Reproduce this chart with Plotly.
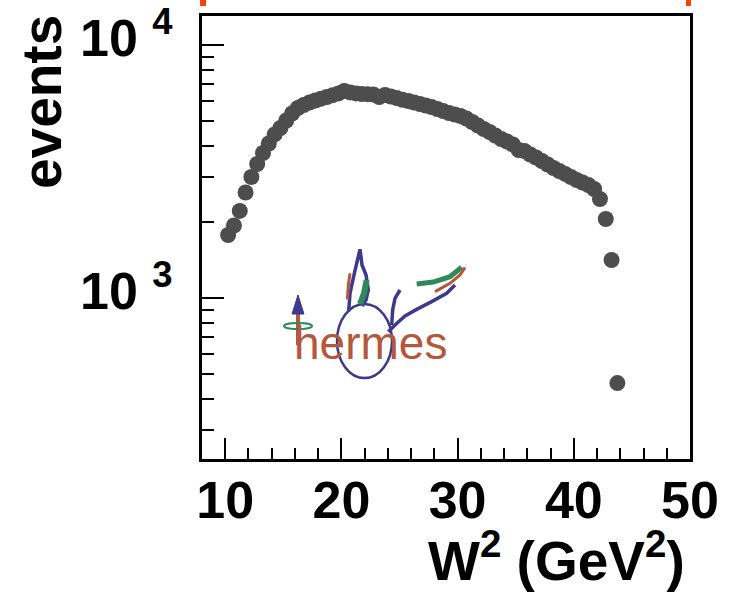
import plotly.graph_objects as go

# ---- data ----
w2 = [10.25 + 0.5 * k for k in range(68)]
events = [1774, 1934, 2208, 2612, 3008, 3385, 3742, 4080, 4430, 4698,
          5030, 5360, 5636, 5792, 5926, 6035, 6134, 6231, 6334, 6433,
          6581, 6492, 6433, 6403, 6391, 6374, 6231, 6345, 6259, 6173,
          6073, 6007, 5926, 5845, 5767, 5688, 5585, 5485, 5386, 5313,
          5241, 5123, 4962, 4806, 4656, 4531, 4389, 4251, 4156, 4044,
          3846, 3811, 3692, 3592, 3479, 3370, 3265, 3177, 3092, 3008,
          2927, 2861, 2797, 2697, 2462, 2052, 1413, 461]
x_ticks = [10, 20, 30, 40, 50]
y_ticks = [1000, 10000]
y_ticktext = ["10 <sup>3</sup>", "10 <sup>4</sup>"]
y_minor = [300, 400, 500, 600, 700, 800, 900,
           2000, 3000, 4000, 5000, 6000, 7000, 8000, 9000]

# ---- geometry (pixels) ----
W, H = 735, 592
L, R, T, B = 202, 690, 16, 459
PW, PH = R - L, B - T


def px(x):
    return (x - L) / PW


def py(y):
    return (B - y) / PH


def path(points):
    # logo points given in a local 3x grid -> page pixels -> paper
    s = ""
    for i, (zx, zy) in enumerate(points):
        x = 260 + zx / 3
        y = 230 + zy / 3
        s += ("M" if i == 0 else " L") + f"{px(x):.4f},{py(y):.4f}"
    return s


FONT = "Liberation Sans, Arial, Helvetica, sans-serif"

fig = go.Figure()
fig.add_trace(go.Scatter(
    x=w2, y=events, mode="markers",
    marker=dict(color="#4d4d4d", size=16, line=dict(width=0)),
    showlegend=False, hoverinfo="x+y"))

navy = "#3d3a8c"
brown = "#b4573a"
green = "#2f8a5a"
shapes = []
# logo: circle
shapes.append(dict(type="circle", xref="paper", yref="paper",
                   x0=px(337), x1=px(392), y0=py(378), y1=py(304),
                   line=dict(color=navy, width=2.5), layer="below"))
# left wing
shapes.append(dict(type="path", xref="paper", yref="paper",
                   path=path([(266, 245), (270, 190), (283, 130), (300, 58), (306, 105),
                              (318, 135), (325, 180), (318, 210), (306, 228)]),
                   line=dict(color=navy, width=3.5)))
shapes.append(dict(type="path", xref="paper", yref="paper",
                   path=path([(300, 222), (312, 190), (320, 150)]),
                   line=dict(color=green, width=6)))
shapes.append(dict(type="path", xref="paper", yref="paper",
                   path=path([(262, 208), (265, 165), (270, 130)]),
                   line=dict(color=brown, width=3)))
# right wing
shapes.append(dict(type="path", xref="paper", yref="paper",
                   path=path([(385, 305), (405, 285), (435, 258), (470, 238), (515, 215),
                              (560, 190), (585, 165)]),
                   line=dict(color=navy, width=3.5)))
shapes.append(dict(type="path", xref="paper", yref="paper",
                   path=path([(395, 285), (398, 240), (405, 205), (420, 180)]),
                   line=dict(color=navy, width=3.5)))
shapes.append(dict(type="path", xref="paper", yref="paper",
                   path=path([(470, 162), (520, 156), (570, 140), (605, 112)]),
                   line=dict(color=green, width=5)))
shapes.append(dict(type="path", xref="paper", yref="paper",
                   path=path([(525, 185), (570, 160), (600, 135), (615, 112)]),
                   line=dict(color=brown, width=3)))
# arrow
shapes.append(dict(type="line", xref="paper", yref="paper",
                   x0=px(298), x1=px(298), y0=py(313), y1=py(345),
                   line=dict(color=brown, width=4)))
shapes.append(dict(type="path", xref="paper", yref="paper",
                   path=f"M{px(292):.4f},{py(314):.4f} L{px(304):.4f},{py(314):.4f} L{px(298):.4f},{py(295):.4f} Z",
                   fillcolor=navy, line=dict(color=navy, width=1)))
shapes.append(dict(type="circle", xref="paper", yref="paper",
                   x0=px(284), x1=px(312), y0=py(329), y1=py(323),
                   line=dict(color=green, width=2)))
# orange marks at the top
for x0, x1 in [(200, 206), (686, 691)]:
    shapes.append(dict(type="rect", xref="paper", yref="paper",
                       x0=px(x0), x1=px(x1), y0=py(6), y1=py(0),
                       fillcolor="#ff4000", line=dict(width=0)))

annotations = [
    dict(text="hermes", xref="paper", yref="paper", x=px(370), y=py(343),
         xanchor="center", yanchor="middle", showarrow=False,
         font=dict(family=FONT, size=46, color=brown)),
    dict(text="events", xref="paper", yref="paper", x=px(42), y=py(102),
         xanchor="center", yanchor="middle", textangle=-90, showarrow=False,
         font=dict(family=FONT, size=55, color="black", weight="bold")),
    dict(text="W<sup>2</sup> (GeV<sup>2</sup>)", xref="paper", yref="paper",
         x=px(687), y=py(594), xanchor="right", yanchor="bottom", showarrow=False,
         font=dict(family=FONT, size=55, color="black", weight="bold")),
]

fig.update_layout(
    width=W, height=H,
    margin=dict(l=L, r=W - R, t=T, b=H - B, pad=0, autoexpand=False),
    paper_bgcolor="white", plot_bgcolor="white",
    shapes=shapes, annotations=annotations,
    xaxis=dict(range=[8, 50], tickmode="array", tickvals=x_ticks,
               automargin=False, ticklabeloverflow="allow",
               ticks="inside", ticklen=21, tickwidth=2, tickcolor="black",
               showline=True, linecolor="black", linewidth=3, mirror=True,
               showgrid=False, zeroline=False,
               tickfont=dict(family=FONT, size=52, color="black", weight="bold"),
               ticklabelstandoff=-6,
               minor=dict(tick0=0, dtick=2, ticks="inside", ticklen=11,
                          tickwidth=2, tickcolor="black", showgrid=False)),
    yaxis=dict(type="log", range=[2.3636, 4.1146], tickmode="array",
               tickvals=y_ticks, ticktext=y_ticktext,
               automargin=False, ticklabeloverflow="allow",
               ticks="inside", ticklen=22, tickwidth=2, tickcolor="black",
               showline=True, linecolor="black", linewidth=3, mirror=True,
               showgrid=False, zeroline=False,
               tickfont=dict(family=FONT, size=52, color="black", weight="bold"),
               ticklabelstandoff=16, ticklabelshift=-7,
               minor=dict(tickmode="array", tickvals=y_minor, ticks="inside",
                          ticklen=12, tickwidth=2, tickcolor="black", showgrid=False)),
)

fig.write_html("out.html")
